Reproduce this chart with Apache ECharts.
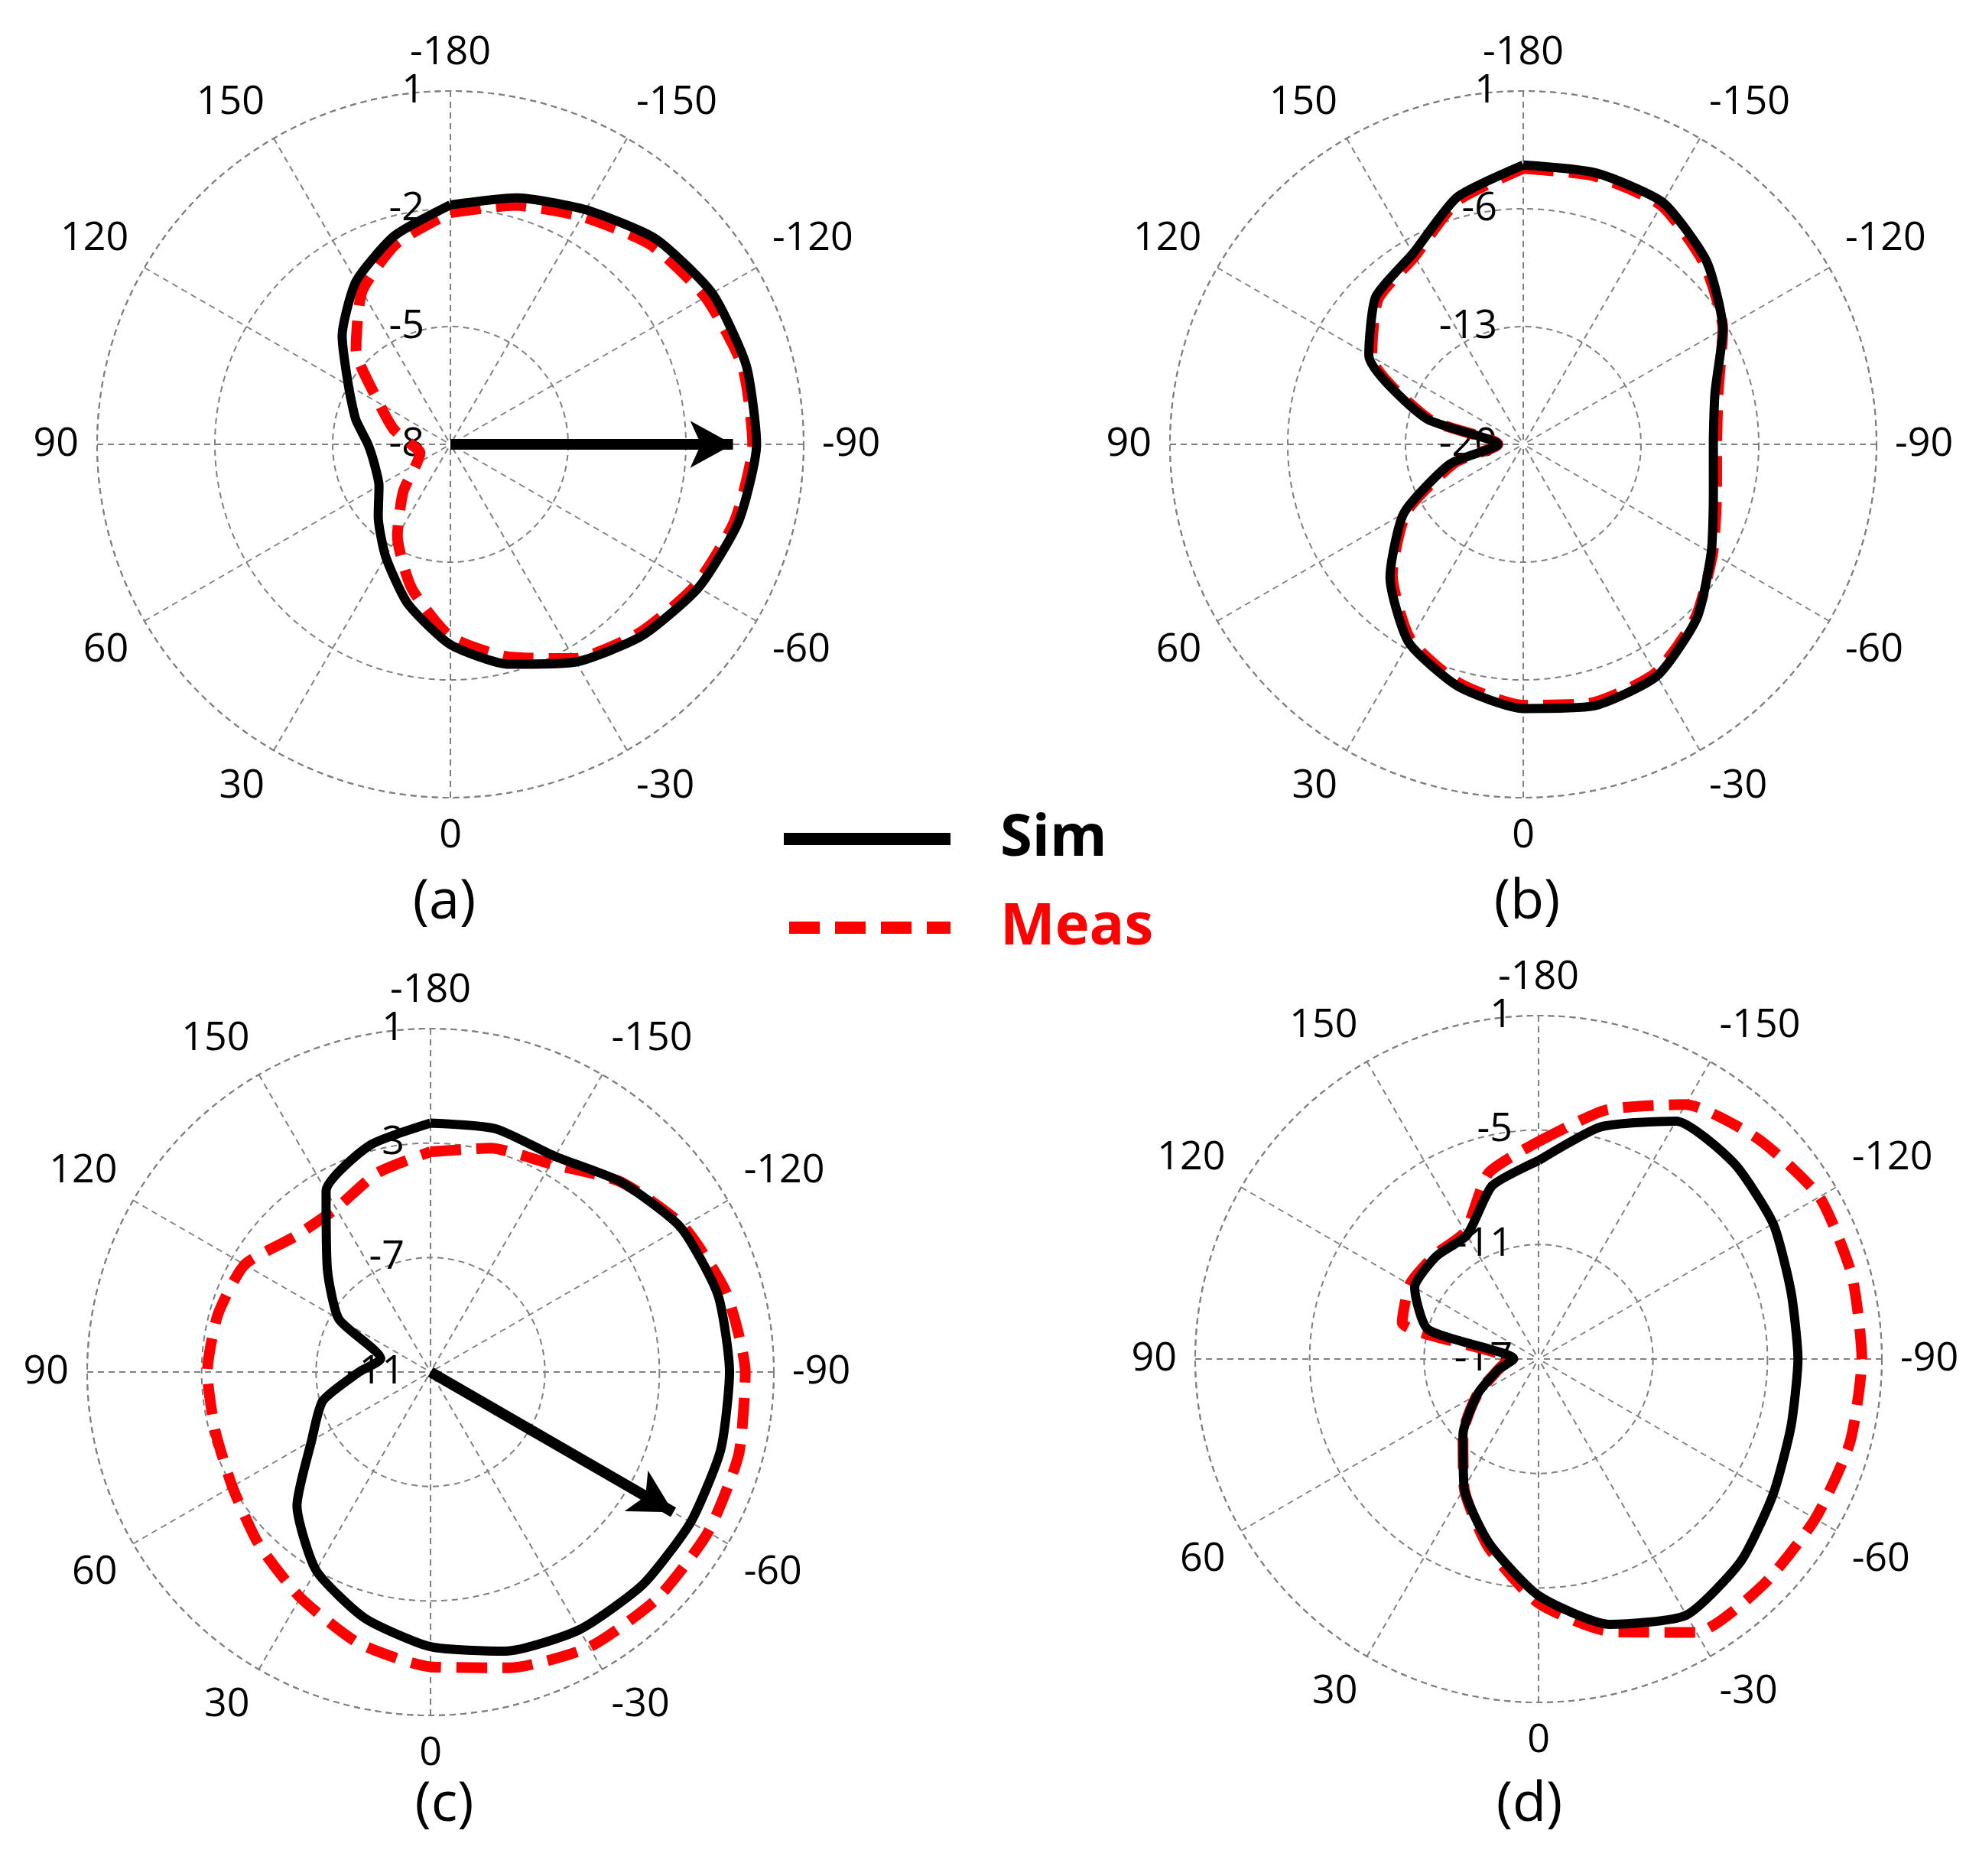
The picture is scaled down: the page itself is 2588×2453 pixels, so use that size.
<!DOCTYPE html>
<html>
<head>
<meta charset="utf-8">
<script src="https://cdn.jsdelivr.net/npm/echarts@6/dist/echarts.min.js"></script>
<style>
  html, body { margin: 0; padding: 0; background: #fff; }
  #main { width: 2588px; height: 2453px; }
</style>
</head>
<body>
<div id="main"></div>
<script>
// angles in degrees as labelled on the chart (0 at bottom, -180 at top)
var angles = [-180, -165, -150, -135, -120, -105, -90, -75, -60, -45, -30, -15, 0, 15, 30, 45, 60, 75, 90, 105, 120, 135, 150, 165];

// radial ranges of each panel
var radMin = [-8, -20, -11, -17];
var radStep = [3, 7, 4, 6];

// panel (a)
var simA  = [-1.9, -1.5, -1.1, -0.6, -0.3, -0.2, -0.2, -0.4, -0.7, -1.1, -1.6, -2.2, -2.9, -3.8, -4.7, -5.4, -5.9, -6.0, -5.9, -5.5, -5.0, -4.1, -3.2, -2.5];
var measA = [-2.1, -1.7, -1.3, -0.8, -0.5, -0.3, -0.3, -0.5, -0.8, -1.2, -1.7, -2.4, -3.1, -4.2, -5.3, -6.3, -7.0, -7.2, -7.0, -6.5, -5.9, -4.6, -3.5, -2.7];
// panel (b)
var simB  = [-3.4, -3.3, -3.4, -4.6, -6.3, -8.2, -8.7, -8.3, -7.1, -5.4, -4.1, -3.9, -4.3, -5.1, -6.4, -8.8, -11.8, -15.5, -18.5, -14.0, -9.4, -7.6, -6.9, -4.8];
var measB = [-3.6, -3.5, -3.6, -4.8, -6.3, -8.0, -8.5, -8.1, -7.0, -5.5, -4.3, -4.1, -4.5, -5.3, -6.6, -9.0, -12.0, -15.8, -18.5, -14.2, -9.6, -7.8, -7.1, -5.0];
// panel (c)
var simC  = [-2.3, -2.2, -2.3, -1.6, -0.9, -0.6, -0.55, -0.5, -0.5, -0.5, -0.6, -0.9, -1.4, -2.1, -3.0, -4.4, -6.2, -7.1, -8.5, -9.2, -7.3, -5.9, -3.7, -2.8];
var measC = [-3.3, -2.9, -2.6, -1.6, -0.8, -0.3, 0.0, 0.15, 0.2, 0.2, 0.1, -0.3, -0.7, -1.2, -1.9, -2.5, -3.0, -3.2, -3.2, -3.3, -3.5, -4.3, -4.4, -3.8];
// panel (d)
var simD  = [-6.6, -4.4, -2.6, -2.5, -2.8, -3.3, -3.4, -3.3, -2.8, -2.0, -1.5, -2.6, -4.6, -7.0, -9.2, -11.4, -13.3, -14.8, -15.7, -11.0, -9.5, -9.4, -9.5, -7.6];
var measD = [-5.6, -3.5, -1.6, -0.7, 0.0, 0.0, -0.05, -0.1, -0.25, -0.3, -0.45, -2.2, -4.2, -6.8, -9.2, -11.4, -13.3, -14.8, -15.4, -9.6, -9.2, -9.3, -9.3, -6.9];

// arrows: [angle, radius value] for panels (a) and (c)
var arrowA = [-90, -0.8];
var arrowC = [-60, -1.2];

var panelLabels = ['(a)', '(b)', '(c)', '(d)'];
var centers = [[589, 581], [1992, 581], [563, 1794], [2012, 1777]];
var radii = [462, 462, 449, 449];
var labelPos = [[581, 1180], [1997, 1180], [581, 2360], [2000, 2360]];

var font = 'Open Sans, Liberation Sans, sans-serif';

function toData(vals) {
    var d = angles.map(function (a, i) { return [vals[i], a + 180]; });
    d.push(d[0]);
    return d;
}

var gridLine = { color: '#808080', width: 2, type: [8, 6] };

var polar = [], angleAxis = [], radiusAxis = [], series = [];
var sims = [simA, simB, simC, simD];
var meases = [measA, measB, measC, measD];

for (var i = 0; i < 4; i++) {
    polar.push({ center: centers[i], radius: radii[i] });
    angleAxis.push({
        polarIndex: i, type: 'value', min: 0, max: 360, interval: 30,
        startAngle: 90, clockwise: true,
        axisLine: { lineStyle: gridLine },
        axisTick: { show: false },
        splitLine: { lineStyle: gridLine },
        axisLabel: {
            margin: 24, fontSize: 52, color: '#000', fontFamily: font,
            formatter: function (v) { return v >= 360 ? '' : String(v - 180); }
        }
    });
    radiusAxis.push({
        polarIndex: i, type: 'value', min: radMin[i], max: 1, interval: radStep[i],
        axisLine: { show: false },
        axisTick: { show: false },
        splitLine: { lineStyle: gridLine },
        axisLabel: { margin: 34, fontSize: 52, color: '#000', fontFamily: font }
    });
    series.push({
        type: 'line', coordinateSystem: 'polar', polarIndex: i, smooth: 0.2,
        showSymbol: false, data: toData(meases[i]), z: 3,
        lineStyle: { color: '#ff0000', width: 14, type: [40, 20] }
    });
    series.push({
        type: 'line', coordinateSystem: 'polar', polarIndex: i, smooth: 0.2,
        showSymbol: false, data: toData(sims[i]), z: 4,
        lineStyle: { color: '#000', width: 12 }
    });
}

function arrowSeries(pi, arr, rot) {
    return {
        type: 'line', coordinateSystem: 'polar', polarIndex: pi, z: 5,
        lineStyle: { color: '#000', width: 14 },
        itemStyle: { color: '#000' },
        data: [
            { value: [radMin[pi], arr[0] + 180], symbol: 'none' },
            { value: [arr[1], arr[0] + 180], symbol: 'arrow', symbolSize: [46, 56], symbolRotate: rot }
        ]
    };
}
series.push(arrowSeries(0, arrowA, -90));
series.push(arrowSeries(2, arrowC, -120));

var graphic = panelLabels.map(function (t, i) {
    return {
        type: 'text', x: labelPos[i][0], y: labelPos[i][1],
        style: { text: t, font: '72px ' + font, fill: '#000', textAlign: 'center', textVerticalAlign: 'middle' }
    };
});
graphic.push(
    { type: 'line', shape: { x1: 1025, y1: 1097, x2: 1243, y2: 1097 }, style: { stroke: '#000', lineWidth: 16 } },
    { type: 'line', shape: { x1: 1032, y1: 1213, x2: 1243, y2: 1213 }, style: { stroke: '#ff0000', lineWidth: 16, lineDash: [40, 20] } },
    { type: 'text', x: 1308, y: 1097, style: { text: 'Sim', font: 'bold 76px ' + font, fill: '#000', textVerticalAlign: 'middle' } },
    { type: 'text', x: 1308, y: 1213, style: { text: 'Meas', font: 'bold 76px ' + font, fill: '#ff0000', textVerticalAlign: 'middle' } }
);

var myChart = echarts.init(document.getElementById('main'));
myChart.setOption({
    animation: false,
    backgroundColor: '#fff',
    polar: polar,
    angleAxis: angleAxis,
    radiusAxis: radiusAxis,
    series: series,
    graphic: graphic
});
</script>
</body>
</html>
